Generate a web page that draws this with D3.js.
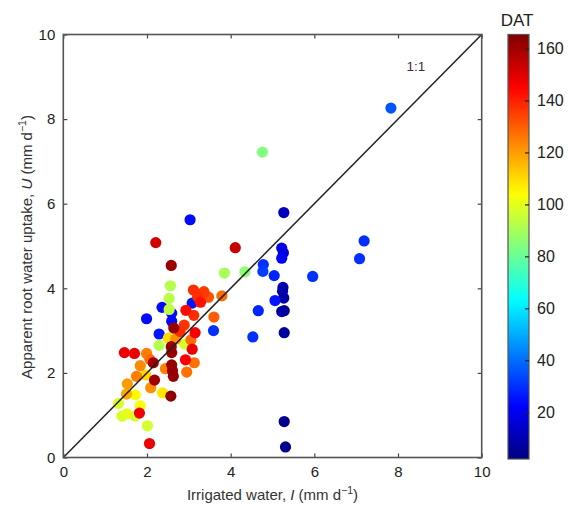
<!DOCTYPE html>
<html>
<head>
<meta charset="utf-8">
<script src="https://cdn.jsdelivr.net/npm/d3@7"></script>
<style>
  html, body { margin: 0; padding: 0; background: #fff; }
  svg { display: block; font-family: "Liberation Sans", Arial, sans-serif; }
</style>
</head>
<body>
<svg id="chart" width="569" height="506"></svg>
<script>
// Irrigated water I (mm d-1)
const irrigated = [
  7.83, 3.03, 5.27, 7.19, 7.08, 5.96, 5.22, 5.26, 5.22, 4.78, 4.77, 5.04, 5.25, 5.24, 5.06,
  5.27, 5.22, 5.28, 4.66, 5.28, 4.53, 3.59, 5.28, 5.31, 1.99, 2.36, 2.29, 2.59, 2.59, 3.08,
  4.76, 3.85, 4.34, 2.56, 2.53, 2.53, 2.29, 2.90, 1.32, 1.40, 1.52, 1.72, 1.72, 1.84, 2.01,
  2.37, 1.97, 2.51,
  2.21, 4.11, 2.58, 3.11, 3.36, 3.47, 3.79, 3.21, 3.28, 2.93, 3.12, 3.60, 2.89, 2.64, 2.79,
  3.15, 3.05, 2.69, 2.58, 2.59, 3.08, 1.46, 1.70, 1.99, 2.07, 2.15, 1.84, 2.44, 2.59, 2.61,
  2.63, 2.92, 3.13, 2.95, 1.75, 2.18, 2.09, 1.53, 1.51, 2.57, 1.82, 2.06
];
// Apparent root water uptake U (mm d-1)
const uptake = [
  8.26, 5.62, 5.79, 5.12, 4.70, 4.28, 4.95, 4.84, 4.71, 4.56, 4.40, 4.30, 4.02, 3.93, 3.71,
  3.77, 3.45, 3.47, 3.47, 2.95, 2.85, 3.00, 0.85, 0.25, 3.28, 3.55, 2.92, 3.41, 3.22, 3.65,
  7.22, 4.36, 4.39, 4.06, 3.76, 3.50, 2.65, 2.68, 1.28, 0.98, 1.03, 0.98, 1.48, 1.22, 0.75,
  1.53, 1.95, 2.82,
  5.08, 4.96, 4.54, 3.96, 3.92, 3.79, 3.82, 3.80, 3.67, 3.48, 3.36, 3.32, 3.13, 3.06, 2.98,
  2.95, 2.78, 2.80, 2.62, 2.48, 2.56, 2.48, 2.46, 2.46, 2.32, 2.24, 2.17, 2.10, 2.19, 2.05,
  1.92, 2.31, 2.24, 2.02, 1.92, 1.83, 1.65, 1.74, 1.50, 1.45, 1.05, 0.33
];
// Days after transplanting (colour)
const dat = [
  36, 24, 12, 30, 30, 30, 18, 16, 22, 30, 32, 28, 10, 9, 26,
  8, 8, 6, 28, 7, 30, 30, 4, 4, 24, 24, 26, 24, 24, 26,
  84, 90, 86, 92, 93, 94, 92, 98, 98, 98, 100, 97, 105, 103, 97,
  108, 110, 110,
  152, 154, 161, 138, 136, 132, 128, 138, 142, 143, 138, 130, 137, 162, 138,
  146, 128, 122, 162, 162, 148, 148, 148, 125, 128, 160, 123, 125, 162, 162,
  162, 145, 127, 127, 125, 160, 122, 120, 118, 163, 147, 148
];

const axisTicks = [0, 2, 4, 6, 8, 10];
const cbarTicks = [20, 40, 60, 80, 100, 120, 140, 160];
const cbarDomain = [2, 165.4];

// MATLAB-style jet colormap
function jet(t) {
  const c = v => Math.max(0, Math.min(1, v));
  const r = c(1.5 - Math.abs(4 * t - 3));
  const g = c(1.5 - Math.abs(4 * t - 2));
  const b = c(1.5 - Math.abs(4 * t - 1));
  return d3.rgb(r * 255, g * 255, b * 255).formatHex();
}

const svg = d3.select("#chart");
const L = 63.3, R = 481.7, T = 34.5, B = 457.5;

const x = d3.scaleLinear().domain([0, 10]).range([L, R]);
const y = d3.scaleLinear().domain([0, 10]).range([B, T]);
const cnorm = d3.scaleLinear().domain(cbarDomain).range([0, 1]).clamp(true);
const color = v => jet(cnorm(v));

const points = d3.sort(irrigated.map((d, i) => ({ I: d, U: uptake[i], D: dat[i] })), p => p.D);

// Points
svg.append("g").selectAll("circle").data(points).join("circle")
  .attr("cx", d => x(d.I)).attr("cy", d => y(d.U)).attr("r", 5.6)
  .attr("fill", d => color(d.D));

// 1:1 line
svg.append("line")
  .attr("x1", x(0)).attr("y1", y(0)).attr("x2", x(10)).attr("y2", y(10))
  .attr("stroke", "#222").attr("stroke-width", 1.5);

svg.append("text").attr("x", x(8.43)).attr("y", y(9.24)).attr("dy", "0.35em")
  .attr("text-anchor", "middle").attr("font-size", 13.5).attr("fill", "#4a2a50").text("1:1");

// Axes (inward ticks on all four sides)
const tickLen = 4;
const axB = d3.axisBottom(x).tickValues(axisTicks).tickSize(-tickLen).tickPadding(9);
const axL = d3.axisLeft(y).tickValues(axisTicks).tickSize(-tickLen).tickPadding(8);
const axT = d3.axisTop(x).tickValues(axisTicks).tickSize(-tickLen).tickFormat("");
const axR = d3.axisRight(y).tickValues(axisTicks).tickSize(-tickLen).tickFormat("");

function styleAxis(g) {
  g.select(".domain").remove();
  g.selectAll(".tick line").attr("stroke", "#444").attr("stroke-width", 1.2);
  g.selectAll(".tick text").attr("font-size", 15).attr("fill", "#222")
    .attr("font-family", "Liberation Sans, Arial, sans-serif");
}
svg.append("g").attr("transform", `translate(0,${B})`).call(axB).call(styleAxis);
svg.append("g").attr("transform", `translate(${L},0)`).call(axL).call(styleAxis);
svg.append("g").attr("transform", `translate(0,${T})`).call(axT).call(styleAxis);
svg.append("g").attr("transform", `translate(${R},0)`).call(axR).call(styleAxis);

// Frame
svg.append("rect").attr("x", L).attr("y", T).attr("width", R - L).attr("height", B - T)
  .attr("fill", "none").attr("stroke", "#555").attr("stroke-width", 1.6);

// Axis titles
const xt = svg.append("text").attr("x", (L + R) / 2).attr("y", 500)
  .attr("text-anchor", "middle").attr("font-size", 15).attr("fill", "#333");
xt.append("tspan").text("Irrigated water, ");
xt.append("tspan").attr("font-style", "italic").text("I");
xt.append("tspan").text(" (mm d");
xt.append("tspan").attr("font-size", 10.5).attr("dy", -6).text("\u22121");
xt.append("tspan").attr("dy", 6).text(")");

const yt = svg.append("text")
  .attr("transform", `translate(32,${(T + B) / 2 + 1}) rotate(-90)`)
  .attr("text-anchor", "middle").attr("font-size", 15).attr("fill", "#333");
yt.append("tspan").text("Apparent root water uptake, ");
yt.append("tspan").attr("font-style", "italic").text("U");
yt.append("tspan").text(" (mm d");
yt.append("tspan").attr("font-size", 10.5).attr("dy", -6).text("\u22121");
yt.append("tspan").attr("dy", 6).text(")");

// Colorbar
const cbX = 508, cbW = 21;
const cy = d3.scaleLinear().domain(cbarDomain).range([B + 1.5, T]);
const defs = svg.append("defs");
const grad = defs.append("linearGradient").attr("id", "jetgrad")
  .attr("x1", 0).attr("y1", 1).attr("x2", 0).attr("y2", 0);
d3.range(0, 1.0001, 0.02).forEach(t => {
  grad.append("stop").attr("offset", t).attr("stop-color", jet(t));
});
svg.append("rect").attr("x", cbX).attr("y", cy(cbarDomain[1])).attr("width", cbW)
  .attr("height", cy(cbarDomain[0]) - cy(cbarDomain[1]))
  .attr("fill", "url(#jetgrad)").attr("stroke", "#555").attr("stroke-width", 1.2);

const axC = d3.axisRight(cy).tickValues(cbarTicks).tickSize(-4).tickPadding(8);
svg.append("g").attr("transform", `translate(${cbX + cbW},0)`).call(axC)
  .call(g => {
    g.select(".domain").remove();
    g.selectAll(".tick line").attr("stroke", "#222").attr("stroke-width", 1.2);
    g.selectAll(".tick text").attr("font-size", 16).attr("fill", "#222")
      .attr("font-family", "Liberation Sans, Arial, sans-serif");
  });

svg.append("text").attr("x", 517).attr("y", 26).attr("text-anchor", "middle")
  .attr("font-size", 17).attr("fill", "#222").text("DAT");
</script>
</body>
</html>
